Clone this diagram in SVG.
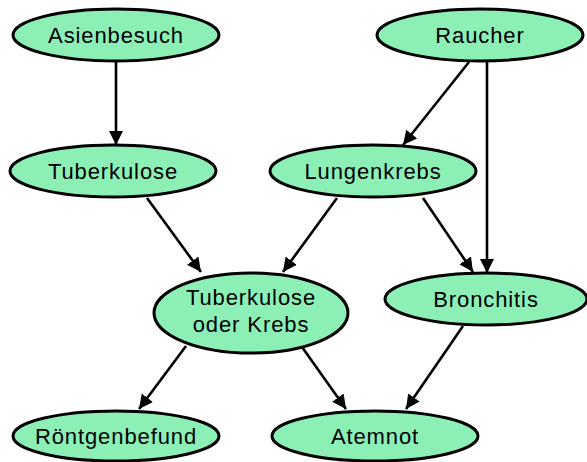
<svg xmlns="http://www.w3.org/2000/svg" width="587" height="462" viewBox="0 0 587 462">
  <style>
    .node ellipse { fill: #8cf0b6; stroke: #000; stroke-width: 3; }
    .node text { font-family: "Liberation Sans", Arial, sans-serif; font-size: 22px; letter-spacing: 0.9px; fill: #000; text-anchor: middle; }
    .edge { stroke: #000; stroke-width: 2.6; fill: none; marker-end: url(#arrow); }
  </style>
  <defs>
    <marker id="arrow" markerUnits="userSpaceOnUse" markerWidth="16" markerHeight="16" viewBox="0 0 16 16" refX="14" refY="7" orient="auto">
      <path d="M0,0 L14,7 L0,14 Z" fill="#000"/>
    </marker>
  </defs>

  <!-- connectors -->
  <g id="edges">
    <line class="edge" x1="116" y1="62" x2="116" y2="145"/>
    <line class="edge" x1="469" y1="62" x2="403" y2="145"/>
    <line class="edge" x1="487" y1="62" x2="487" y2="273"/>
    <line class="edge" x1="147" y1="198" x2="201" y2="272"/>
    <line class="edge" x1="337" y1="198" x2="283" y2="272"/>
    <line class="edge" x1="423" y1="198" x2="473" y2="272"/>
    <line class="edge" x1="186" y1="346" x2="139" y2="409"/>
    <line class="edge" x1="302" y1="347" x2="346" y2="409"/>
    <line class="edge" x1="463" y1="326" x2="406" y2="409"/>
  </g>

  <!-- nodes -->
  <g id="asienbesuch" class="node">
    <ellipse cx="116" cy="35" rx="103" ry="26"/>
    <text x="116" y="43">Asienbesuch</text>
  </g>
  <g id="raucher" class="node">
    <ellipse cx="480" cy="35" rx="103" ry="26"/>
    <text x="480" y="43">Raucher</text>
  </g>
  <g id="tuberkulose" class="node">
    <ellipse cx="113" cy="171" rx="103" ry="26"/>
    <text x="113" y="179">Tuberkulose</text>
  </g>
  <g id="lungenkrebs" class="node">
    <ellipse cx="373" cy="171" rx="103" ry="26"/>
    <text x="373" y="179">Lungenkrebs</text>
  </g>
  <g id="tub_oder_krebs" class="node">
    <ellipse cx="251" cy="313" rx="97" ry="40"/>
    <text x="251" y="305">Tuberkulose</text>
    <text x="251" y="332">oder Krebs</text>
  </g>
  <g id="bronchitis" class="node">
    <ellipse cx="486" cy="299" rx="101" ry="26"/>
    <text x="486" y="307">Bronchitis</text>
  </g>
  <g id="roentgenbefund" class="node">
    <ellipse cx="116" cy="436" rx="103" ry="25"/>
    <text x="116" y="444">Röntgenbefund</text>
  </g>
  <g id="atemnot" class="node">
    <ellipse cx="375" cy="436" rx="103" ry="25"/>
    <text x="375" y="444">Atemnot</text>
  </g>
</svg>
